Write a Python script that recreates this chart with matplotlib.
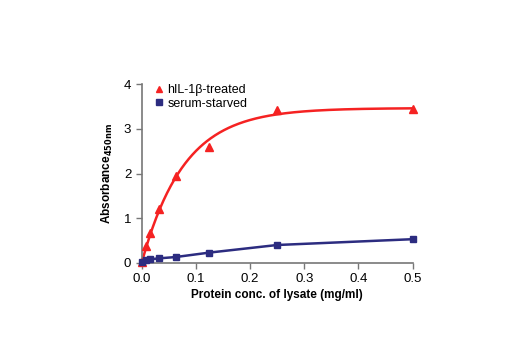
import numpy as np
import matplotlib
matplotlib.use("Agg")
import matplotlib.pyplot as plt

plt.rcParams['font.family'] = ['Liberation Sans Narrow', 'Liberation Sans', 'DejaVu Sans']

treated_x = [0.0, 0.0078, 0.0156, 0.03125, 0.0625, 0.125, 0.25, 0.5]
treated = [0.03, 0.37, 0.68, 1.21, 1.94, 2.6, 3.43, 3.45]
starved_x = [0.0, 0.0078, 0.0156, 0.03125, 0.0625, 0.125, 0.25, 0.5]
starved = [0.03, 0.06, 0.08, 0.1, 0.13, 0.23, 0.40, 0.53]

red = '#f52222'
navy = '#2c2c80'

# saturation fit for the treated curve: y = A(1 - exp(-kx))
tx = np.array(treated_x)
ty = np.array(treated)
best = None
for k in np.linspace(1, 60, 600):
    f = 1 - np.exp(-k * tx)
    A = (f @ ty) / (f @ f)
    err = np.sum((A * f - ty) ** 2)
    if best is None or err < best[0]:
        best = (err, A, k)
_, A, k = best
xs = np.linspace(0, 0.5, 300)

fig = plt.figure(figsize=(5.2, 3.5), dpi=100)
ax = fig.add_axes([0.2725, 0.249, 0.521, 0.510])

ax.plot(xs, A * (1 - np.exp(-k * xs)), color=red, lw=1.8, zorder=2)
ax.plot(treated_x, treated, '^', color=red, ms=5.5, clip_on=False, zorder=3,
        label='hIL-1\u03b2-treated')
ax.plot(starved_x, starved, '-', color=navy, lw=1.8, zorder=2)
ax.plot(starved_x, starved, 's', color=navy, ms=5, clip_on=False,
        zorder=3, label='serum-starved')

ax.set_xlim(0, 0.5)
ax.set_ylim(0, 4)
ax.set_xticks([0, 0.1, 0.2, 0.3, 0.4, 0.5])
ax.set_xticklabels(['0.0', '0.1', '0.2', '0.3', '0.4', '0.5'])
ax.set_yticks([0, 1, 2, 3, 4])
for s in ['top', 'right']:
    ax.spines[s].set_visible(False)
for s in ['left', 'bottom']:
    ax.spines[s].set_color('#777777')
    ax.spines[s].set_linewidth(1.2)
ax.tick_params(colors='#777777', labelcolor='black', labelsize=9.5,
               length=4, width=1)

ax.set_xlabel('Protein conc. of lysate (mg/ml)', fontsize=8.5,
              fontweight='bold', labelpad=3)
ax.set_ylabel(r'Absorbance$_{\mathbf{450nm}}$', fontsize=8.5,
              fontweight='bold', labelpad=6)

ax.legend(loc='upper left', bbox_to_anchor=(0.03, 1.03), frameon=False,
          fontsize=9, handlelength=0.6, handletextpad=0.4, labelspacing=0.15,
          markerscale=0.75, borderaxespad=0)

fig.savefig('out.png', dpi=100)
